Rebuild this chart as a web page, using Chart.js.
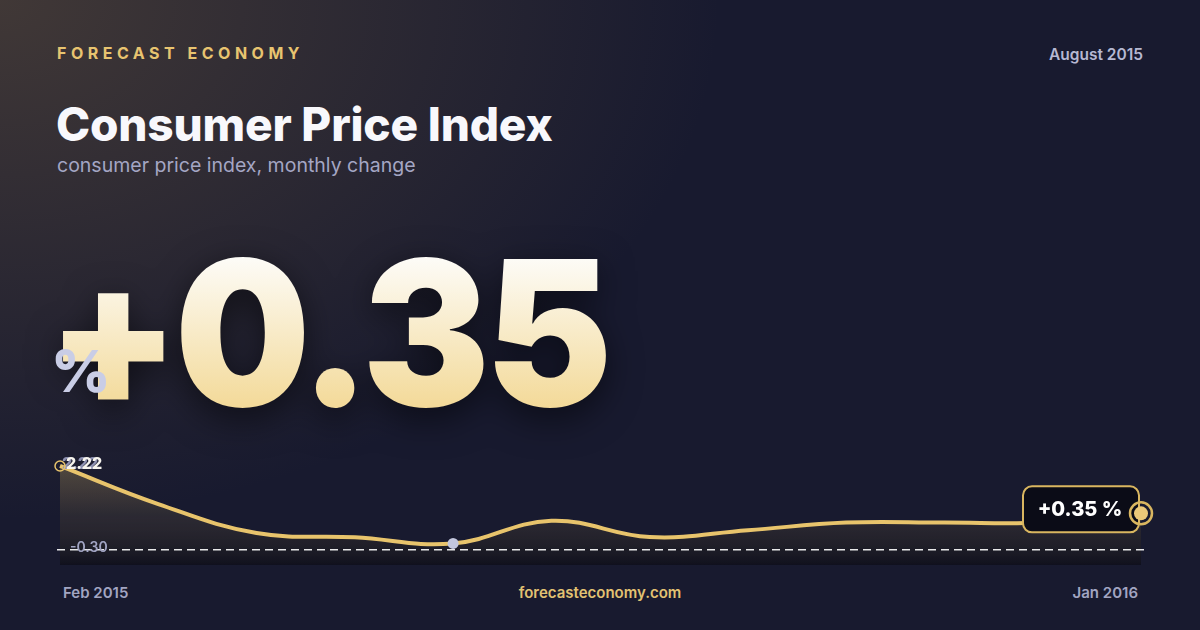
<!DOCTYPE html>
<html>
<head>
<meta charset="utf-8">
<script src="https://cdn.jsdelivr.net/npm/chart.js@4.4.1/dist/chart.umd.min.js"></script>
<style>
  html, body { margin: 0; padding: 0; }
  body {
    width: 1200px; height: 630px; overflow: hidden; position: relative;
    font-family: Inter, "Noto Sans", sans-serif;
    background:
      radial-gradient(ellipse 720px 520px at 0 0, rgba(105, 86, 62, 0.5), rgba(105, 86, 62, 0) 100%),
      #181a2f;
  }
  .abs { position: absolute; line-height: 1; white-space: nowrap; }
  #brand { left: 57px; top: 45px; font-size: 16px; font-weight: 700; letter-spacing: 4.5px; color: #e8c470; }
  #date { right: 57px; top: 47px; font-size: 15.5px; font-weight: 600; color: #b6b8d2; }
  #title { left: 56px; top: 101px; font-size: 46px; font-weight: 800; color: #f8f8fc; letter-spacing: -0.2px; }
  #subtitle { left: 57px; top: 156px; font-size: 19.5px; font-weight: 400; color: #a4a6c4; }
  #big {
    left: 47px; top: 232px; font-size: 202px; font-weight: 900; letter-spacing: -5px;
    transform: scaleX(0.945); transform-origin: 0 0;
    background: linear-gradient(180deg, #fdfcf8 12%, #f3d997 88%);
    -webkit-background-clip: text; background-clip: text;
    -webkit-text-fill-color: transparent; color: transparent;
    filter: drop-shadow(0 10px 18px rgba(0, 0, 0, 0.55));
  }
  #pct { left: 51px; top: 342px; font-size: 58px; font-weight: 800; color: #c9cde6; }
  #chartBox { position: absolute; left: 40px; top: 440px; width: 1120px; height: 130px; }
  .foot { top: 585px; font-size: 15px; font-weight: 600; color: #a2a5c2; }
  #fStart { left: 63px; }
  #fEnd { right: 62px; }
  #fSite { left: 0; width: 1200px; text-align: center; color: #e2c272; }
</style>
</head>
<body>
  <div class="abs" id="brand">FORECAST ECONOMY</div>
  <div class="abs" id="date">August 2015</div>
  <div class="abs" id="title">Consumer Price Index</div>
  <div class="abs" id="subtitle">consumer price index, monthly change</div>
  <div class="abs" id="big"></div>
  <div class="abs" id="pct">%</div>
  <div id="chartBox"><canvas id="cpi-chart"></canvas></div>
  <div class="abs foot" id="fStart"></div>
  <div class="abs foot" id="fSite">forecasteconomy.com</div>
  <div class="abs foot" id="fEnd"></div>

<script>
// months on the x axis
const months = ['Feb 2015', 'Mar 2015', 'Apr 2015', 'May 2015', 'Jun 2015', 'Jul 2015',
                'Aug 2015', 'Sep 2015', 'Oct 2015', 'Nov 2015', 'Dec 2015', 'Jan 2016'];
// monthly change, %
const cpiChange = [2.22, 0.98, 0.04, -0.10, -0.30, 0.44, -0.09, 0.13, 0.38, 0.38, 0.38, 0.68];
// headline value shown big and in the end tag
const headlineValue = 0.35;
// dashed floor line
const floorValue = -0.5;
// y range of the mini chart
const yRange = [-1.0, 2.6];

const gold = '#e8c46c';
const fmt = v => (v > 0 ? '+' : '') + v.toFixed(2);

document.getElementById('big').textContent = fmt(headlineValue);
document.getElementById('fStart').textContent = months[0];
document.getElementById('fEnd').textContent = months[months.length - 1];

const maxIdx = cpiChange.indexOf(Math.max(...cpiChange));
const minIdx = cpiChange.indexOf(Math.min(...cpiChange));
const lastIdx = cpiChange.length - 1;

// dashed line, min/max labels, markers and end tag
const overlayPlugin = {
  id: 'overlay',
  afterDatasetsDraw(chart) {
    const ctx = chart.ctx;
    const area = chart.chartArea;
    const yScale = chart.scales.y;
    const pts = chart.getDatasetMeta(0).data;

    ctx.save();
    // floor line
    const fy = yScale.getPixelForValue(floorValue);
    ctx.strokeStyle = 'rgba(255,255,255,0.9)';
    ctx.lineWidth = 1.5;
    ctx.setLineDash([8, 5]);
    ctx.beginPath();
    ctx.moveTo(area.left - 3, fy);
    ctx.lineTo(area.right + 6, fy);
    ctx.stroke();
    ctx.setLineDash([]);

    // min label on the floor line
    ctx.font = '600 14px Inter';
    ctx.textBaseline = 'middle';
    ctx.fillStyle = '#a2a5c4';
    ctx.fillText(cpiChange[minIdx].toFixed(2), area.left + 10, fy - 2);

    // max label (two layers)
    const pMax = pts[maxIdx];
    ctx.font = '800 16px Inter';
    ctx.textBaseline = 'alphabetic';
    ctx.fillStyle = '#8d90b0';
    ctx.fillText(cpiChange[maxIdx].toFixed(2), area.left + 2, pMax.y + 3);
    ctx.fillStyle = '#f6f4ee';
    ctx.fillText(cpiChange[maxIdx].toFixed(2), area.left + 6, pMax.y + 3);

    // first point ring
    const p0 = pts[0];
    ctx.strokeStyle = gold;
    ctx.lineWidth = 1.5;
    ctx.beginPath();
    ctx.arc(p0.x, p0.y, 5, 0, Math.PI * 2);
    ctx.stroke();

    // min point
    const pMin = pts[minIdx];
    ctx.fillStyle = '#c3c7de';
    ctx.beginPath();
    ctx.arc(pMin.x, pMin.y, 5.5, 0, Math.PI * 2);
    ctx.fill();

    // end tag
    const pLast = pts[lastIdx];
    const bw = 116, bh = 46;
    const bx = pLast.x - 2 - bw, by = pLast.y - 27;
    ctx.fillStyle = '#0b0c17';
    ctx.strokeStyle = '#d9b660';
    ctx.lineWidth = 2;
    ctx.beginPath();
    ctx.roundRect(bx, by, bw, bh, 9);
    ctx.fill();
    ctx.stroke();
    ctx.fillStyle = '#ffffff';
    ctx.font = '800 20px Inter';
    ctx.textAlign = 'center';
    ctx.textBaseline = 'middle';
    ctx.fillText(fmt(headlineValue) + ' %', bx + bw / 2 - 1, by + bh / 2 + 1);

    // end marker
    ctx.strokeStyle = '#d9b660';
    ctx.lineWidth = 2.5;
    ctx.beginPath();
    ctx.arc(pLast.x, pLast.y, 11, 0, Math.PI * 2);
    ctx.stroke();
    ctx.fillStyle = '#ecc979';
    ctx.beginPath();
    ctx.arc(pLast.x, pLast.y, 7, 0, Math.PI * 2);
    ctx.fill();
    ctx.restore();
  }
};

new Chart(document.getElementById('cpi-chart'), {
  type: 'line',
  data: {
    labels: months,
    datasets: [{
      data: cpiChange,
      borderColor: gold,
      borderWidth: 4,
      tension: 0.4,
      pointRadius: 0,
      fill: 'start',
      backgroundColor: function(context) {
        const area = context.chart.chartArea;
        if (!area) return 'rgba(0,0,0,0)';
        const g = context.chart.ctx.createLinearGradient(0, area.top, 0, area.bottom);
        g.addColorStop(0, 'rgba(232,196,108,0.30)');
        g.addColorStop(0.55, 'rgba(90,78,60,0.30)');
        g.addColorStop(1, 'rgba(10,10,16,0.55)');
        return g;
      }
    }]
  },
  options: {
    responsive: true,
    maintainAspectRatio: false,
    animation: false,
    layout: { padding: { left: 20, right: 19, top: 14.3, bottom: 5 } },
    plugins: { legend: { display: false }, tooltip: { enabled: false } },
    scales: {
      x: { display: false },
      y: { display: false, min: yRange[0], max: yRange[1] }
    }
  },
  plugins: [overlayPlugin]
});
</script>
</body>
</html>
